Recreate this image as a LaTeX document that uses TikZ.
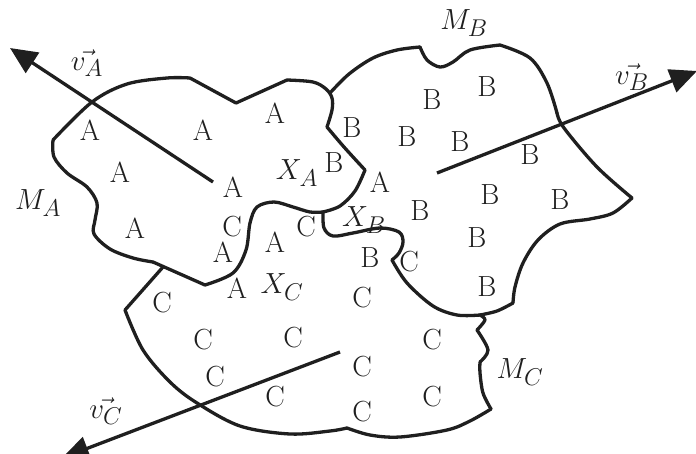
\documentclass[tikz,border=0pt]{standalone}
\usepackage{graphicx}
\usetikzlibrary{arrows.meta}
% enlarged letters for the point labels
\newcommand\bigtx[1]{\scalebox{1.17}{#1}}
\begin{document}
\begin{tikzpicture}[x=1pt,y=-1pt,
  edge/.style={line width=3.3pt, line join=round, line cap=round, color=black!88},
  vec/.style={line width=3.3pt, color=black!88, -{Triangle[length=27pt,width=24pt]}},
  lbl/.style={inner sep=0pt, font=\fontsize{24.88}{28}\selectfont, text=black!88},
  sm/.style={smooth, tension=0.55}]
\useasboundingbox (0,0) rectangle (696,453);

% ---- region M_A : top and left outline
\draw[edge] (287,80) -- (236,103) -- (190,78);
\draw[edge] plot[sm] coordinates {(190,78) (167,78) (127,84) (92,102) (53,140)};
\draw[edge] plot[sm] coordinates {(53,140) (54,157) (67,173) (87,187) (97,203) (95,220) (94,234) (110,249) (133,258) (153,262)};
\draw[edge] (153,262) -- (205,285);

% ---- border between M_A and M_B
\draw[edge] plot[sm] coordinates {(287,80) (313,82) (326,89) (332,98) (332,110) (327,127)};
\draw[edge] plot[sm] coordinates {(327,127) (344,147) (365,170)};
\draw[edge] plot[sm] coordinates {(365,170) (355,191) (340,206) (323,212)};

% ---- border between M_A and M_C
\draw[edge] plot[sm] coordinates {(205,285) (233,273) (246,250) (250,223) (257,207) (274,202) (293,207) (310,212) (323,212)};

% ---- border between M_B and M_C
\draw[edge] plot[sm] coordinates {(323,212) (324,228) (333,236) (353,233) (380,228) (399,232) (403,242) (399,253) (392,260)};
\draw[edge] plot[sm] coordinates {(392,260) (407,283) (433,306) (457,315) (480,315)};

% ---- region M_B : outer outline
\draw[edge] plot[sm] coordinates {(330,93) (349,74) (373,58) (397,50) (420,47)};
\draw[edge] plot[sm] coordinates {(420,47) (427,60) (440,67) (453,62) (470,50) (500,45)};
\draw[edge] plot[sm] coordinates {(500,45) (530,58) (547,83) (557,113)};
\draw[edge] plot[sm] coordinates {(557,113) (564,128) (597,167) (632,198)};
\draw[edge] plot[sm] coordinates {(632,198) (613,213) (590,219) (560,224) (538,240) (523,263) (515,287) (513,303)};
\draw[edge] plot[sm] coordinates {(513,303) (497,311) (480,315)};

% ---- region M_C : outer outline
\draw[edge] (163,267) -- (125,310);
\draw[edge] plot[sm] coordinates {(125,310) (143,350) (170,382) (197,403) (240,426) (290,434) (330,431) (347,428)};
\draw[edge] plot[sm] coordinates {(347,428) (370,435) (400,437) (447,430) (470,421) (491,409)};
\draw[edge] plot[sm] coordinates {(491,409) (483,393) (480,373) (480,362)};
\draw[edge] plot[sm] coordinates {(480,362) (488,350) (477,330)};
\draw[edge] plot[sm] coordinates {(477,330) (485,320) (480,315)};

% ---- velocity vectors
\coordinate (vAs) at (213,182);
\coordinate (vAe) at (10,48);
\coordinate (vBs) at (437,173);
\coordinate (vBe) at (697,71);
\coordinate (vCs) at (340,352);
\coordinate (vCe) at (62,458);
\draw[vec] (vAs) -- (vAe);
\draw[vec] (vBs) -- (vBe);
\draw[vec] (vCs) -- (vCe);

% ---- names
\node[lbl] (MA) at (38,203) {\bigtx{$M_A$}};
\node[lbl] (MB) at (464,23) {\bigtx{$M_B$}};
\node[lbl] (MC) at (520,372) {\bigtx{$M_C$}};
\node[lbl] (vA) at (87,63) {\bigtx{$\vec{v_A}$}};
\node[lbl] (vB) at (632,77) {\bigtx{$\vec{v_B}$}};
\node[lbl] (vC) at (106,411) {\bigtx{$\vec{v_C}$}};
\node[lbl] (XA) at (297,173) {\bigtx{$X_A$}};
\node[lbl] (XB) at (364,220) {\bigtx{$X_B$}};
\node[lbl] (XC) at (282,287) {\bigtx{$X_C$}};

% ---- points of A
\foreach \p [count=\i] in {(90,130),(203,130),(275,113),(120,172),(233,187),(135,228),(223,252),(275,242),(237,288),(380,182)}
  \node[lbl] (a\i) at \p {\bigtx{A}};
% ---- points of B
\foreach \p [count=\i] in {(432,100),(487,87),(352,128),(407,137),(460,142),(530,155),(490,195),(560,200),(420,211),(334,163),(370,258),(477,238),(487,287)}
  \node[lbl] (b\i) at \p {\bigtx{B}};
% ---- points of C
\foreach \p [count=\i] in {(232,227),(306,227),(409,262),(362,298),(162,303),(203,340),(293,338),(215,377),(275,397),(432,340),(362,367),(432,397),(362,412)}
  \node[lbl] (c\i) at \p {\bigtx{C}};
\end{tikzpicture}
\end{document}
